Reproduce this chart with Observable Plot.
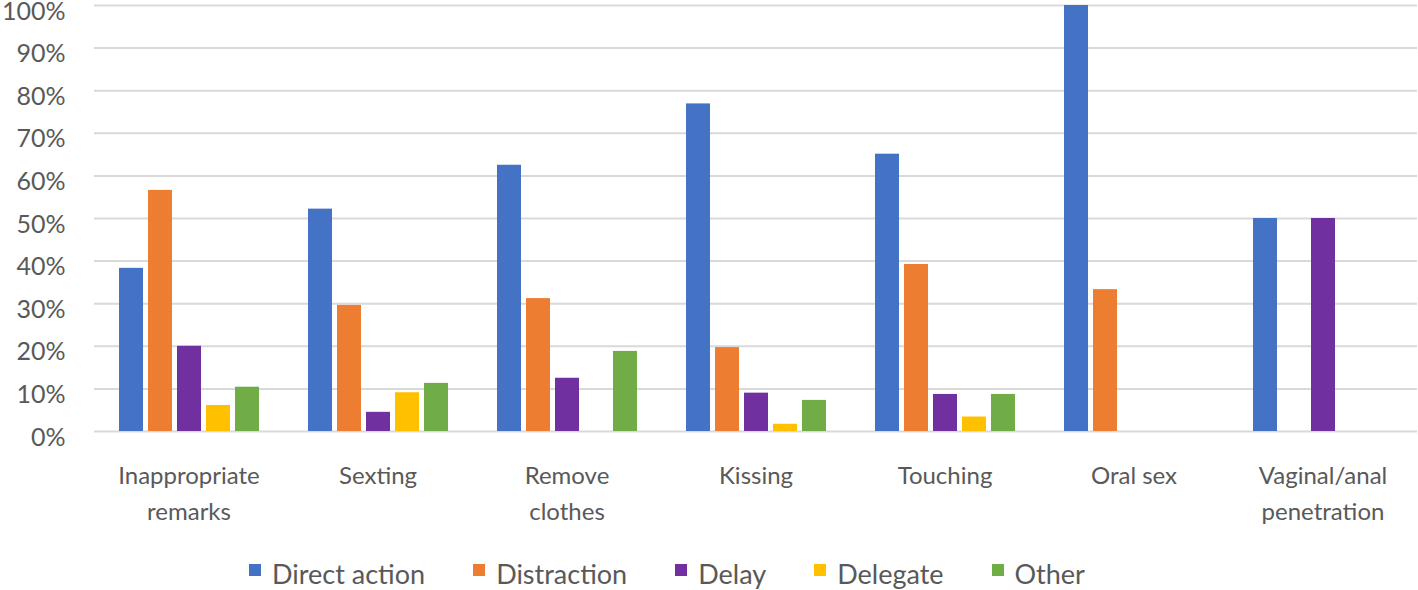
<!DOCTYPE html>
<html>
<head>
<meta charset="utf-8">
<script src="https://cdn.jsdelivr.net/npm/d3@7"></script>
<script src="https://cdn.jsdelivr.net/npm/@observablehq/plot@0.6"></script>
<style>
  html, body { margin: 0; padding: 0; background: #fff; }
  #chart { width: 1418px; }
  .legend { display: flex; justify-content: center; align-items: center; height: 50px; margin-top: 8px;
    font-family: Lato, "Open Sans", sans-serif; font-size: 27px; color: #595959; padding-right: 84px; }
  .legend .item { display: flex; align-items: center; margin: 0 24px; }
  .legend .sw { width: 12px; height: 12px; margin-right: 11px; margin-top: -6px; }
</style>
</head>
<body>
<div id="chart"></div>
<script>
const categories = ["Inappropriate remarks", "Sexting", "Remove clothes", "Kissing", "Touching", "Oral sex", "Vaginal/anal penetration"];
const categoryLabels = ["Inappropriate\nremarks", "Sexting", "Remove\nclothes", "Kissing", "Touching", "Oral sex", "Vaginal/anal\npenetration"];
const series = ["Direct action", "Distraction", "Delay", "Delegate", "Other"];
const colors = ["#4472C4", "#ED7D31", "#7030A0", "#FFC000", "#70AD47"];

const directAction = [38.3, 52.2, 62.5, 76.9, 65.1, 100, 50];
const distraction  = [56.6, 29.6, 31.2, 19.7, 39.2, 33.3, 0];
const delay        = [20.0, 4.5, 12.5, 9.0, 8.7, 0, 50];
const delegate     = [6.1, 9.1, 0, 1.7, 3.4, 0, 0];
const other        = [10.4, 11.3, 18.8, 7.3, 8.7, 0, 0];

const yTicks = [0, 0.1, 0.2, 0.3, 0.4, 0.5, 0.6, 0.7, 0.8, 0.9, 1.0];

const seriesValues = [directAction, distraction, delay, delegate, other];
const rows = [];
categories.forEach((c, i) => {
  series.forEach((s, j) => {
    rows.push({category: c, series: s, value: seriesValues[j][i] / 100});
  });
});

const labelOf = new Map(categories.map((c, i) => [c, categoryLabels[i]]));
const textColor = "#595959";
const font = "Lato, 'Open Sans', sans-serif";

const chart = Plot.plot({
  width: 1418,
  height: 540,
  marginLeft: 92,
  marginRight: 0,
  marginTop: 5,
  marginBottom: 109,
  style: {fontFamily: font, background: "#fff"},
  fx: {domain: categories, padding: 0, axis: null},
  x: {domain: series, paddingInner: 0.18, paddingOuter: 0.77, axis: null},
  y: {domain: [0, 1], axis: null},
  color: {domain: series, range: colors},
  marks: [
    Plot.ruleY(yTicks, {stroke: "#d9d9d9", strokeWidth: 2}),
    Plot.barY(rows, {fx: "category", x: "series", y: "value", fill: "series"}),
    Plot.axisY({ticks: yTicks, tickFormat: d3.format(".0%"), tickSize: 0, tickPadding: 29,
      fontSize: 25, fill: textColor, dy: 6, label: null}),
    Plot.axisFx({anchor: "bottom", tickSize: 0, tickPadding: 27, fontSize: 24, fill: textColor,
      lineHeight: 1.5, tickFormat: d => labelOf.get(d), lineAnchor: "top", label: null})
  ]
});
document.getElementById("chart").appendChild(chart);

const legend = document.createElement("div");
legend.className = "legend";
series.forEach((s, j) => {
  const item = document.createElement("div");
  item.className = "item";
  const sw = document.createElement("span");
  sw.className = "sw";
  sw.style.background = colors[j];
  const t = document.createElement("span");
  t.textContent = s;
  item.appendChild(sw);
  item.appendChild(t);
  legend.appendChild(item);
});
document.getElementById("chart").appendChild(legend);
</script>
</body>
</html>
